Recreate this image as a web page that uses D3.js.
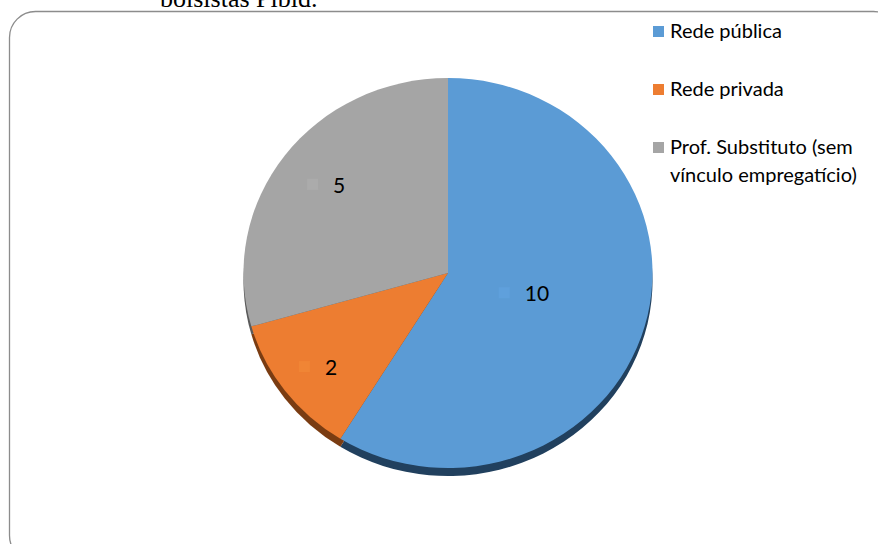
<!DOCTYPE html>
<html><head><meta charset="utf-8">
<script src="https://cdn.jsdelivr.net/npm/d3@7"></script>
<style>body{margin:0;background:#fff;overflow:hidden}svg{display:block}</style>
</head><body>
<svg id="c" width="878" height="544"></svg>
<script>
const categories = ["Rede pública", "Rede privada", "Prof. Substituto (sem vínculo empregatício)"];
const legendLines = [["Rede pública"], ["Rede privada"], ["Prof. Substituto (sem", "vínculo empregatício)"]];
const values = [10, 2, 5];
const colors = ["#5B9BD5", "#ED7D31", "#A5A5A5"];
const rimColors = ["#21405E", "#7A3C12", "#5A5A5A"];
const markerColors = ["#5FA0DC", "#F08535", "#ABABAB"];
const labelRadius = [0.38, 0.80, 0.75];

const svg = d3.select("#c");
svg.append("text").attr("x", 160).attr("y", 7)
  .attr("font-family", "Liberation Serif, serif").attr("font-size", 26).attr("fill", "#000")
  .text("bolsistas Pibid.");
svg.append("rect").attr("x", 9.5).attr("y", 11.5).attr("width", 890).attr("height", 550)
  .attr("rx", 26).attr("fill", "none").attr("stroke", "#8c8c8c").attr("stroke-width", 1.3);

const cx = 448, cy = 273, rx = 204.5, ry = 195;
const pie = d3.pie().sort(null).value(d => d)(values);
const arc = d3.arc().innerRadius(0).outerRadius(rx);

const rim = svg.append("g").attr("transform", `translate(${cx},${cy + 8}) scale(1,${ry / rx})`);
rim.selectAll("path").data(pie).join("path").attr("d", arc).attr("fill", (d, i) => rimColors[i]);
const g = svg.append("g").attr("transform", `translate(${cx},${cy}) scale(1,${ry / rx})`);
g.selectAll("path").data(pie).join("path").attr("d", arc).attr("fill", (d, i) => colors[i]);

const lab = svg.append("g");
pie.forEach((d, i) => {
  const r = rx * labelRadius[i];
  const c = d3.arc().innerRadius(r).outerRadius(r).centroid(d);
  const x = cx + c[0], y = cy + c[1] * ry / rx;
  const tw = String(values[i]).length * 11;
  const w = tw + 26;
  lab.append("rect").attr("x", x - w / 2).attr("y", y - 6).attr("width", 11).attr("height", 11)
    .attr("fill", markerColors[i]);
  lab.append("text").attr("x", x - w / 2 + 26).attr("y", y + 8)
    .attr("font-family", "Lato, sans-serif").attr("font-size", 21).attr("fill", "#000")
    .text(values[i]);
});

const leg = svg.append("g");
const ly = [31, 89, 147];
legendLines.forEach((lines, i) => {
  leg.append("rect").attr("x", 653).attr("y", ly[i] - 5).attr("width", 11).attr("height", 11).attr("fill", colors[i]);
  lines.forEach((t, k) => {
    leg.append("text").attr("x", 670).attr("y", ly[i] + 7 + k * 28)
      .attr("font-family", "Lato, sans-serif").attr("font-size", 20).attr("fill", "#000").text(t);
  });
});
</script>
</body></html>
